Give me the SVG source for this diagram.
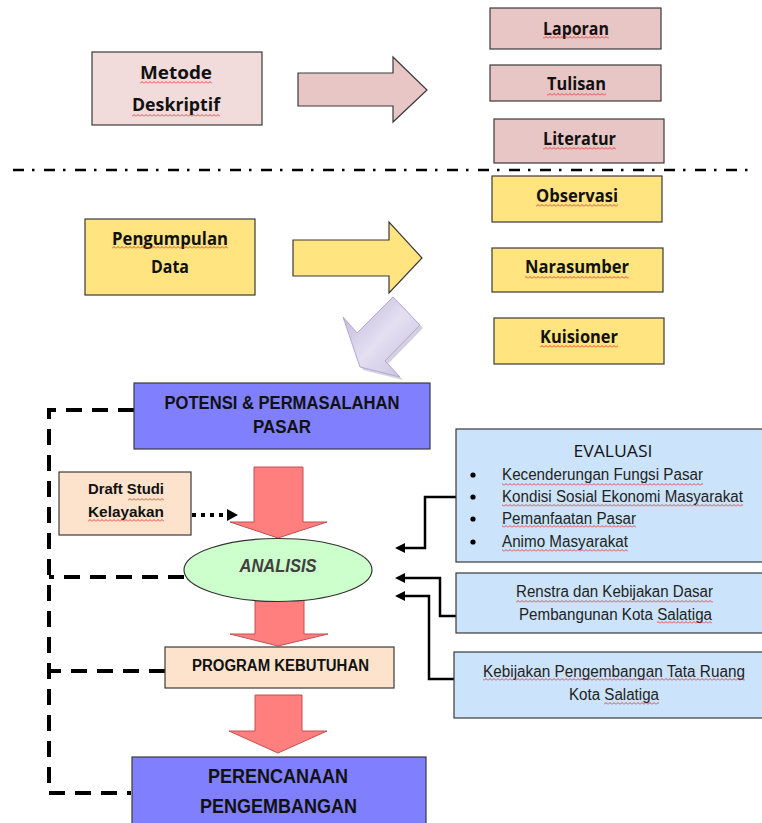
<svg xmlns="http://www.w3.org/2000/svg" width="762" height="823" viewBox="0 0 762 823">
<style>
.box{stroke:#3a3a3a;stroke-width:1.2}
.pink{fill:#e9c6c6}
.pinkl{fill:#f2dcdb}
.yel{fill:#ffe47f}
.peach{fill:#fde3cc}
.purple{fill:#8080ff}
.blue{fill:#cce4fb}
.red{fill:#ff7f7f;stroke:#c05050;stroke-width:1}
.tb{font-family:"Open Sans","Liberation Sans",sans-serif;font-weight:700;font-size:17px;fill:#111;text-anchor:middle}
.ab{font-family:"Liberation Sans",Arial,sans-serif;font-weight:700;fill:#111;text-anchor:middle}
.ar{font-family:"Liberation Sans",Arial,sans-serif;font-size:16px;fill:#222}
.sq{fill:url(#sq)}
.dash{fill:none;stroke:#000;stroke-width:4;stroke-dasharray:16 10}
.conn{fill:none;stroke:#000;stroke-width:2.5}
</style>
<defs>
<pattern id="sq" width="4" height="3" patternUnits="userSpaceOnUse">
<path d="M0 2.5 L2 0.5 L4 2.5" fill="none" stroke="#e02020" stroke-width="0.8"/>
</pattern>
<linearGradient id="pg" x1="0" y1="0" x2="1" y2="1">
<stop offset="0" stop-color="#b9b0d8"/>
<stop offset="0.5" stop-color="#e4e0f1"/>
<stop offset="1" stop-color="#c4bbdf"/>
</linearGradient>
</defs>

<!-- separator -->
<line x1="13" y1="170" x2="752" y2="170" stroke="#000" stroke-width="2.5" stroke-dasharray="11 8 2.5 9.5"/>

<g id="metode">
<rect class="box pinkl" x="92" y="52" width="170" height="73"/>
<text class="tb" x="176" y="79" textLength="72" lengthAdjust="spacingAndGlyphs">Metode</text>
<text class="tb" x="176" y="111" textLength="88" lengthAdjust="spacingAndGlyphs">Deskriptif</text>
<rect class="sq" x="140" y="81" width="72" height="3"/>
<rect class="sq" x="132" y="114" width="88" height="3"/>
</g>
<g id="arrow-pink">
<path class="box pink" d="M298,73 H393 V57 L427,90 L393,122 V106 H298 Z"/>
</g>
<g id="laporan">
<rect class="box pink" x="490" y="8" width="171" height="41"/>
<text class="tb" x="576" y="35" textLength="66" lengthAdjust="spacingAndGlyphs">Laporan</text>
<rect class="sq" x="543" y="36" width="66" height="3"/>
</g>
<g id="tulisan">
<rect class="box pink" x="490" y="65" width="171" height="36"/>
<text class="tb" x="576.5" y="90" textLength="59" lengthAdjust="spacingAndGlyphs">Tulisan</text>
<rect class="sq" x="547" y="93" width="59" height="3"/>
</g>
<g id="literatur">
<rect class="box pink" x="494" y="119" width="170" height="44"/>
<text class="tb" x="579.5" y="145" textLength="73" lengthAdjust="spacingAndGlyphs">Literatur</text>
<rect class="sq" x="543" y="147" width="73" height="3"/>
</g>

<g id="pengumpulan">
<rect class="box yel" x="85" y="219" width="170" height="76"/>
<text class="tb" x="170" y="245" textLength="116" lengthAdjust="spacingAndGlyphs">Pengumpulan</text>
<text class="tb" x="170" y="273" textLength="38" lengthAdjust="spacingAndGlyphs">Data</text>
<rect class="sq" x="112" y="246" width="116" height="3"/>
</g>
<g id="arrow-yellow">
<path class="box yel" d="M293,240 H389 V222 L422,258 L389,293 V276 H293 Z"/>
</g>
<g id="observasi">
<rect class="box yel" x="492" y="176" width="170" height="46"/>
<text class="tb" x="577" y="202" textLength="82" lengthAdjust="spacingAndGlyphs">Observasi</text>
<rect class="sq" x="536" y="204" width="82" height="3"/>
</g>
<g id="narasumber">
<rect class="box yel" x="492" y="248" width="171" height="44"/>
<text class="tb" x="577" y="273" textLength="104" lengthAdjust="spacingAndGlyphs">Narasumber</text>
<rect class="sq" x="525" y="276" width="104" height="3"/>
</g>
<g id="kuisioner">
<rect class="box yel" x="494" y="318" width="170" height="46"/>
<text class="tb" x="579" y="343" textLength="78" lengthAdjust="spacingAndGlyphs">Kuisioner</text>
<rect class="sq" x="540" y="345" width="78" height="3"/>
</g>

<g id="arrow-purple">
<path d="M346,320 L360,336 L396,300 L423,328 L388,364 L403,380 L363,370 Z" fill="#b8b3c8" opacity="0.6"/>
<path d="M343,317 L357,333 L393,297 L420,325 L385,361 L400,377 L360,367 Z" fill="url(#pg)" stroke="#b3a9d4" stroke-width="1"/>
</g>

<!-- connectors -->
<g id="connectors">
<path class="dash" d="M134,410 H49 V793 H131"/>
<path class="dash" d="M184,577 H49"/>
<path class="dash" d="M165,671 H49"/>
<line x1="192" y1="515" x2="226" y2="515" stroke="#000" stroke-width="4" stroke-dasharray="4 5"/>
<path d="M227,509 L238,515 L227,521 Z" fill="#000"/>
<path class="conn" d="M456,497 H425 V548 H403"/>
<path d="M395,548 L405,543 L405,553 Z" fill="#000"/>
<path class="conn" d="M456,616 H440 V578 H403"/>
<path d="M395,578 L405,573 L405,583 Z" fill="#000"/>
<path class="conn" d="M456,679 H429 V596 H403"/>
<path d="M395,596 L405,591 L405,601 Z" fill="#000"/>
<path class="red" d="M254,467 H303 V522 H327 L278,538 L230,522 H254 Z"/>
<path class="red" d="M255,595 H304 V634 H328 L278,646 L230,634 H255 Z"/>
<path class="red" d="M255,695 H302 V731 H327 L278,753 L229,731 H255 Z"/>
</g>

<g id="potensi">
<rect class="box purple" x="134" y="383" width="296" height="66"/>
<text class="ab" x="282" y="409" font-size="18" textLength="235" lengthAdjust="spacingAndGlyphs">POTENSI &amp; PERMASALAHAN</text>
<text class="ab" x="282" y="433" font-size="18" textLength="58" lengthAdjust="spacingAndGlyphs">PASAR</text>
</g>
<g id="draft">
<rect class="box peach" x="59" y="472" width="132" height="63"/>
<text class="ab" x="126" y="494" font-size="15" textLength="76" lengthAdjust="spacingAndGlyphs">Draft Studi</text>
<text class="ab" x="126" y="517" font-size="15" textLength="76" lengthAdjust="spacingAndGlyphs">Kelayakan</text>
<rect class="sq" x="128" y="498" width="36" height="3"/>
<rect class="sq" x="88" y="519" width="76" height="3"/>
</g>
<g id="analisis">
<ellipse cx="278" cy="570" rx="94" ry="31.5" fill="#ccffcc" stroke="#333" stroke-width="1.2"/>
<text class="ab" x="278" y="572" font-size="18" font-style="italic" style="fill:#404040" textLength="77" lengthAdjust="spacingAndGlyphs">ANALISIS</text>
</g>
<g id="program">
<rect class="box peach" x="165" y="647" width="229" height="41"/>
<text class="ab" x="280.5" y="671" font-size="16" textLength="177" lengthAdjust="spacingAndGlyphs">PROGRAM KEBUTUHAN</text>
</g>
<g id="perencanaan">
<rect class="box purple" x="132" y="757" width="294" height="80"/>
<text class="ab" x="278" y="783" font-size="21" textLength="140" lengthAdjust="spacingAndGlyphs">PERENCANAAN</text>
<text class="ab" x="278.5" y="813" font-size="21" textLength="157" lengthAdjust="spacingAndGlyphs">PENGEMBANGAN</text>
</g>

<g id="evaluasi">
<rect class="box blue" x="456" y="429" width="310" height="133"/>
<text x="613" y="457" font-family="Open Sans, Liberation Sans, sans-serif" font-size="16" fill="#111" text-anchor="middle" textLength="79" lengthAdjust="spacingAndGlyphs">EVALUASI</text>
<circle cx="473" cy="475" r="2.6" fill="#000"/>
<circle cx="473" cy="497" r="2.6" fill="#000"/>
<circle cx="473" cy="519" r="2.6" fill="#000"/>
<circle cx="473" cy="542" r="2.6" fill="#000"/>
<text class="ar" x="502" y="480" textLength="201" lengthAdjust="spacingAndGlyphs">Kecenderungan Fungsi Pasar</text>
<text class="ar" x="502" y="502" textLength="241" lengthAdjust="spacingAndGlyphs">Kondisi Sosial Ekonomi Masyarakat</text>
<text class="ar" x="502" y="524" textLength="134" lengthAdjust="spacingAndGlyphs">Pemanfaatan Pasar</text>
<text class="ar" x="502" y="547" textLength="126" lengthAdjust="spacingAndGlyphs">Animo Masyarakat</text>
<rect class="sq" x="502" y="483" width="201" height="3"/>
<rect class="sq" x="502" y="504" width="241" height="3"/>
<rect class="sq" x="502" y="525" width="134" height="3"/>
<rect class="sq" x="502" y="549" width="126" height="3"/>
</g>
<g id="renstra">
<rect class="box blue" x="456" y="573" width="310" height="60"/>
<text class="ar" x="516" y="597" textLength="197" lengthAdjust="spacingAndGlyphs">Renstra dan Kebijakan Dasar</text>
<text class="ar" x="519" y="620" textLength="193" lengthAdjust="spacingAndGlyphs">Pembangunan Kota Salatiga</text>
<rect class="sq" x="516" y="600" width="197" height="3"/>
<rect class="sq" x="657" y="621" width="55" height="3"/>
</g>
<g id="kebijakan">
<rect class="box blue" x="454" y="652" width="312" height="66"/>
<text class="ar" x="483" y="677" textLength="262" lengthAdjust="spacingAndGlyphs">Kebijakan Pengembangan Tata Ruang</text>
<text class="ar" x="569" y="700" textLength="90" lengthAdjust="spacingAndGlyphs">Kota Salatiga</text>
<rect class="sq" x="483" y="678" width="262" height="3"/>
<rect class="sq" x="604" y="702" width="55" height="3"/>
</g>
</svg>
